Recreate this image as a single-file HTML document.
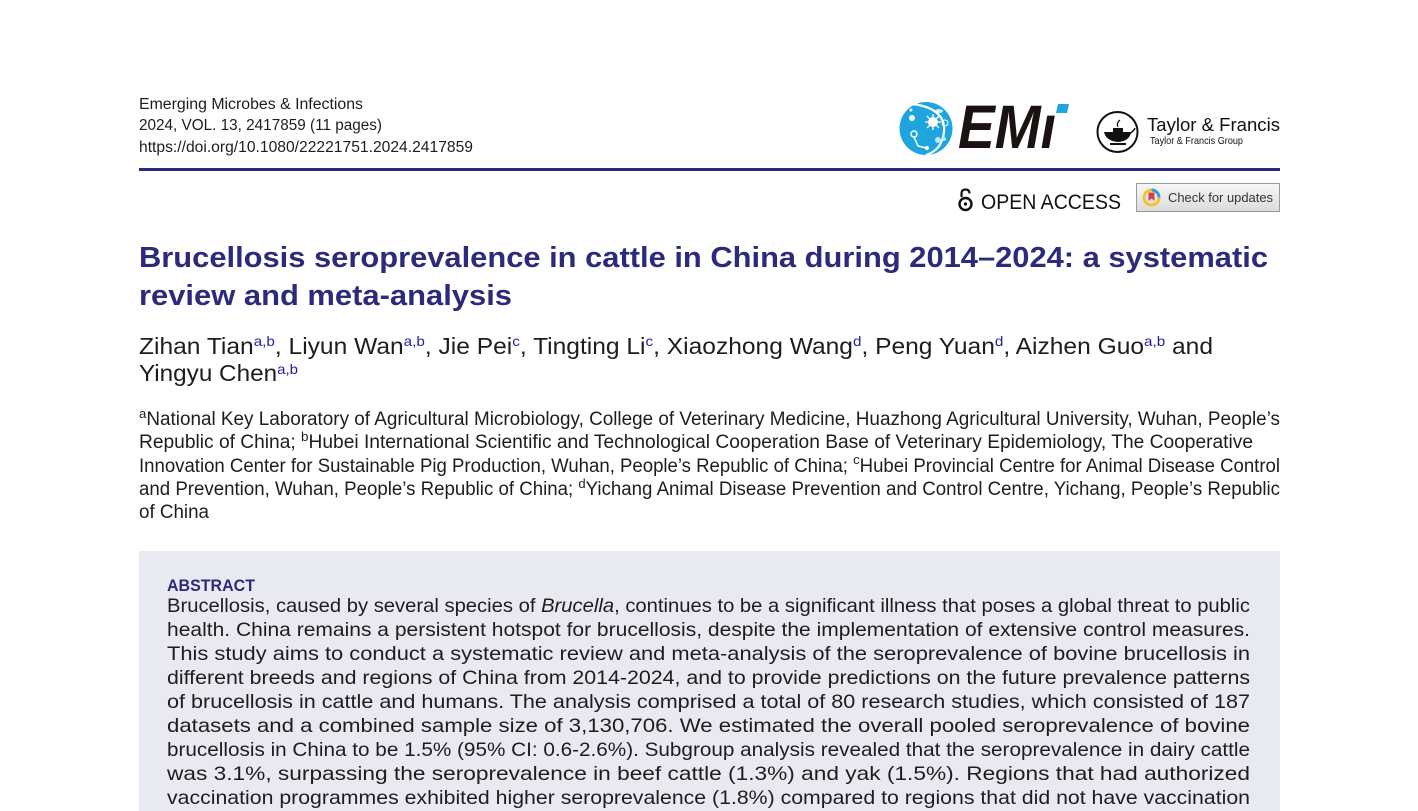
<!DOCTYPE html>
<html><head><meta charset="utf-8">
<style>
html,body{margin:0;padding:0;background:#fff;}
body{width:1418px;height:811px;position:relative;overflow:hidden;font-family:"Liberation Sans",sans-serif;color:#1d1d1b;}
.ln{position:absolute;white-space:nowrap;}
.ln>span{display:inline-block;white-space:nowrap;transform-origin:0 0;}
sup{font-size:0.62em;line-height:0;vertical-align:baseline;position:relative;top:-0.5em;}
.af sup{font-size:0.7em;top:-0.55em;}
.au sup{color:#2424a0;}
.navy{color:#2b2a7c;}
</style></head><body>

<!-- Header text -->
<div class="ln" style="left:139px;top:96.9px;width:224px;font-size:15.5px;line-height:15.5px;"><span>Emerging Microbes &amp; Infections</span></div>
<div class="ln" style="left:139px;top:118.4px;width:243px;font-size:15.5px;line-height:15.5px;"><span>2024, VOL. 13, 2417859 (11 pages)</span></div>
<div class="ln" style="left:139px;top:139.9px;width:334px;font-size:15.5px;line-height:15.5px;"><span>https://doi.org/10.1080/22221751.2024.2417859</span></div>

<!-- Rule -->
<div style="position:absolute;left:139px;top:168px;width:1141px;height:3px;background:#2b2a7c;"></div>

<!-- EMi logo -->
<svg style="position:absolute;left:0;top:0" width="1418" height="240" viewBox="0 0 1418 240">
  <circle cx="926" cy="128.5" r="26.5" fill="#1ea5de"/>
  <path d="M912 104 Q946 108 944 132 Q942 150 926 155" fill="none" stroke="#fff" stroke-width="2.2"/>
  <circle cx="933" cy="122" r="5" fill="#fff"/>
  <g stroke="#fff" stroke-width="1.3">
    <line x1="933" y1="114" x2="933" y2="130"/><line x1="925" y1="122" x2="941" y2="122"/>
    <line x1="927" y1="116" x2="939" y2="128"/><line x1="939" y1="116" x2="927" y2="128"/>
  </g>
  <circle cx="945" cy="123" r="3" fill="none" stroke="#fff" stroke-width="1"/>
  <ellipse cx="939" cy="111" rx="4" ry="2" fill="#fff" opacity="0.8"/>
  <circle cx="912" cy="118" r="3" fill="#fff"/>
  <circle cx="914" cy="134" r="3" fill="none" stroke="#fff" stroke-width="1.5"/>
  <path d="M914 137 L918 146 L926 148" fill="none" stroke="#fff" stroke-width="1.5"/>
  <circle cx="927" cy="148" r="2" fill="#fff"/>
  <circle cx="938" cy="140" r="3" fill="#bfe6f6"/>
  <circle cx="944" cy="139" r="2" fill="#bfe6f6"/>
  <circle cx="911" cy="110" r="1.5" fill="#fff"/>
  <polygon points="1058,104 1069,104 1067,113 1056,113" fill="#1ea5de"/>

  <!-- Taylor & Francis logo -->
  <circle cx="1117.5" cy="132" r="20" fill="none" stroke="#111" stroke-width="2"/>
  <path d="M1104 132 L1131 132 Q1130 141 1118 142 Q1106 141 1104 132 Z" fill="#111"/>
  <path d="M1129 134 Q1134 131 1135 128" fill="none" stroke="#111" stroke-width="1.5"/>
  <rect x="1113" y="128" width="10" height="4" fill="#111"/>
  <path d="M1118 127 Q1116 123 1120 120" fill="none" stroke="#111" stroke-width="1.2"/>
  <rect x="1110" y="143" width="16" height="2" fill="#111"/>

  <!-- Open access lock -->
  <path d="M961.5 197 L961.5 193.5 Q961.5 189.5 965.5 189.5 Q969.5 189.5 969.5 193.5" fill="none" stroke="#111" stroke-width="2.2"/>
  <circle cx="965.5" cy="204" r="6" fill="none" stroke="#111" stroke-width="2.4"/>
  <circle cx="965.5" cy="204" r="1.6" fill="#111"/>
</svg>
<div class="ln" style="left:958px;top:97.4px;width:98px;font-size:61px;line-height:61px;font-weight:bold;font-style:italic;color:#1a1311;"><span>EMı</span></div>

<div class="ln" style="left:1147px;top:115.5px;width:133px;font-size:18px;line-height:18px;color:#111;"><span>Taylor &amp; Francis</span></div>
<div class="ln" style="left:1150px;top:136.1px;width:93px;font-size:10.5px;line-height:10.5px;color:#111;"><span>Taylor &amp; Francis Group</span></div>

<!-- OPEN ACCESS -->
<div class="ln" style="left:981px;top:192.2px;width:140px;font-size:21px;line-height:21px;color:#111;"><span>OPEN ACCESS</span></div>

<!-- Check for updates -->
<div style="position:absolute;left:1136px;top:183px;width:142px;height:27px;border:1px solid #9a9a9a;background:linear-gradient(#f7f7f7,#dcdcdc);"></div>
<svg style="position:absolute;left:1142px;top:188px" width="19" height="19" viewBox="0 0 19 19">
  <circle cx="9.5" cy="9.5" r="7.5" fill="none" stroke="#f2c230" stroke-width="3"/>
  <path d="M9.5 2 A7.5 7.5 0 0 1 17 9.5" fill="none" stroke="#2ba3d8" stroke-width="3"/>
  <path d="M6.5 4.5 L12.5 4.5 L12.5 13 L9.5 10.5 L6.5 13 Z" fill="#e23a3a"/>
</svg>
<div class="ln" style="left:1168px;top:190.7px;width:105px;font-size:13px;line-height:13px;color:#333;"><span>Check for updates</span></div>

<!-- Title -->
<div class="ln navy" style="left:139px;top:243.5px;width:1129px;font-size:29px;line-height:29px;font-weight:bold;"><span>Brucellosis seroprevalence in cattle in China during 2014–2024: a systematic</span></div>
<div class="ln navy" style="left:139px;top:282px;width:373px;font-size:29px;line-height:29px;font-weight:bold;"><span>review and meta-analysis</span></div>

<!-- Authors -->
<div class="ln au" style="left:139px;top:334.5px;width:1074px;font-size:23px;line-height:23px;"><span>Zihan Tian<sup>a,b</sup>, Liyun Wan<sup>a,b</sup>, Jie Pei<sup>c</sup>, Tingting Li<sup>c</sup>, Xiaozhong Wang<sup>d</sup>, Peng Yuan<sup>d</sup>, Aizhen Guo<sup>a,b</sup> and</span></div>
<div class="ln au" style="left:139px;top:362px;width:159px;font-size:23px;line-height:23px;"><span>Yingyu Chen<sup>a,b</sup></span></div>

<!-- Affiliations -->
<div class="ln af" style="left:139px;top:410.4px;width:1141px;font-size:19px;line-height:19px;"><span><sup>a</sup>National Key Laboratory of Agricultural Microbiology, College of Veterinary Medicine, Huazhong Agricultural University, Wuhan, People’s</span></div>
<div class="ln af" style="left:139px;top:433.4px;width:1114px;font-size:19px;line-height:19px;"><span>Republic of China; <sup>b</sup>Hubei International Scientific and Technological Cooperation Base of Veterinary Epidemiology, The Cooperative</span></div>
<div class="ln af" style="left:139px;top:456.7px;width:1141px;font-size:19px;line-height:19px;"><span>Innovation Center for Sustainable Pig Production, Wuhan, People’s Republic of China; <sup>c</sup>Hubei Provincial Centre for Animal Disease Control</span></div>
<div class="ln af" style="left:139px;top:479.9px;width:1141px;font-size:19px;line-height:19px;"><span>and Prevention, Wuhan, People’s Republic of China; <sup>d</sup>Yichang Animal Disease Prevention and Control Centre, Yichang, People’s Republic</span></div>
<div class="ln af" style="left:139px;top:503.2px;width:70px;font-size:19px;line-height:19px;"><span>of China</span></div>

<!-- Abstract box -->
<div style="position:absolute;left:139px;top:551px;width:1141px;height:260px;background:#e9e9f2;"></div>
<div class="ln navy" style="left:167px;top:577.7px;width:88px;font-size:16.5px;line-height:16.5px;font-weight:bold;"><span>ABSTRACT</span></div>

<div class="ln" style="left:167px;top:596.8px;width:1083px;font-size:19.5px;line-height:19.5px;"><span>Brucellosis, caused by several species of <i>Brucella</i>, continues to be a significant illness that poses a global threat to public</span></div>
<div class="ln" style="left:167px;top:620.8px;width:1083px;font-size:19.5px;line-height:19.5px;"><span>health. China remains a persistent hotspot for brucellosis, despite the implementation of extensive control measures.</span></div>
<div class="ln" style="left:167px;top:644.8px;width:1083px;font-size:19.5px;line-height:19.5px;"><span>This study aims to conduct a systematic review and meta-analysis of the seroprevalence of bovine brucellosis in</span></div>
<div class="ln" style="left:167px;top:668.8px;width:1083px;font-size:19.5px;line-height:19.5px;"><span>different breeds and regions of China from 2014-2024, and to provide predictions on the future prevalence patterns</span></div>
<div class="ln" style="left:167px;top:692.8px;width:1083px;font-size:19.5px;line-height:19.5px;"><span>of brucellosis in cattle and humans. The analysis comprised a total of 80 research studies, which consisted of 187</span></div>
<div class="ln" style="left:167px;top:716.8px;width:1083px;font-size:19.5px;line-height:19.5px;"><span>datasets and a combined sample size of 3,130,706. We estimated the overall pooled seroprevalence of bovine</span></div>
<div class="ln" style="left:167px;top:740.8px;width:1083px;font-size:19.5px;line-height:19.5px;"><span>brucellosis in China to be 1.5% (95% CI: 0.6-2.6%). Subgroup analysis revealed that the seroprevalence in dairy cattle</span></div>
<div class="ln" style="left:167px;top:764.8px;width:1083px;font-size:19.5px;line-height:19.5px;"><span>was 3.1%, surpassing the seroprevalence in beef cattle (1.3%) and yak (1.5%). Regions that had authorized</span></div>
<div class="ln" style="left:167px;top:788.8px;width:1083px;font-size:19.5px;line-height:19.5px;"><span>vaccination programmes exhibited higher seroprevalence (1.8%) compared to regions that did not have vaccination</span></div>

<script>
(function(){
  var ls=document.querySelectorAll('.ln');
  for(var i=0;i<ls.length;i++){
    var d=ls[i],s=d.firstElementChild;
    var t=parseFloat(d.style.width);
    var w=s.getBoundingClientRect().width;
    if(w>0&&t>0){s.style.transform='scaleX('+(t/w)+')';}
  }
})();
</script>
</body></html>
